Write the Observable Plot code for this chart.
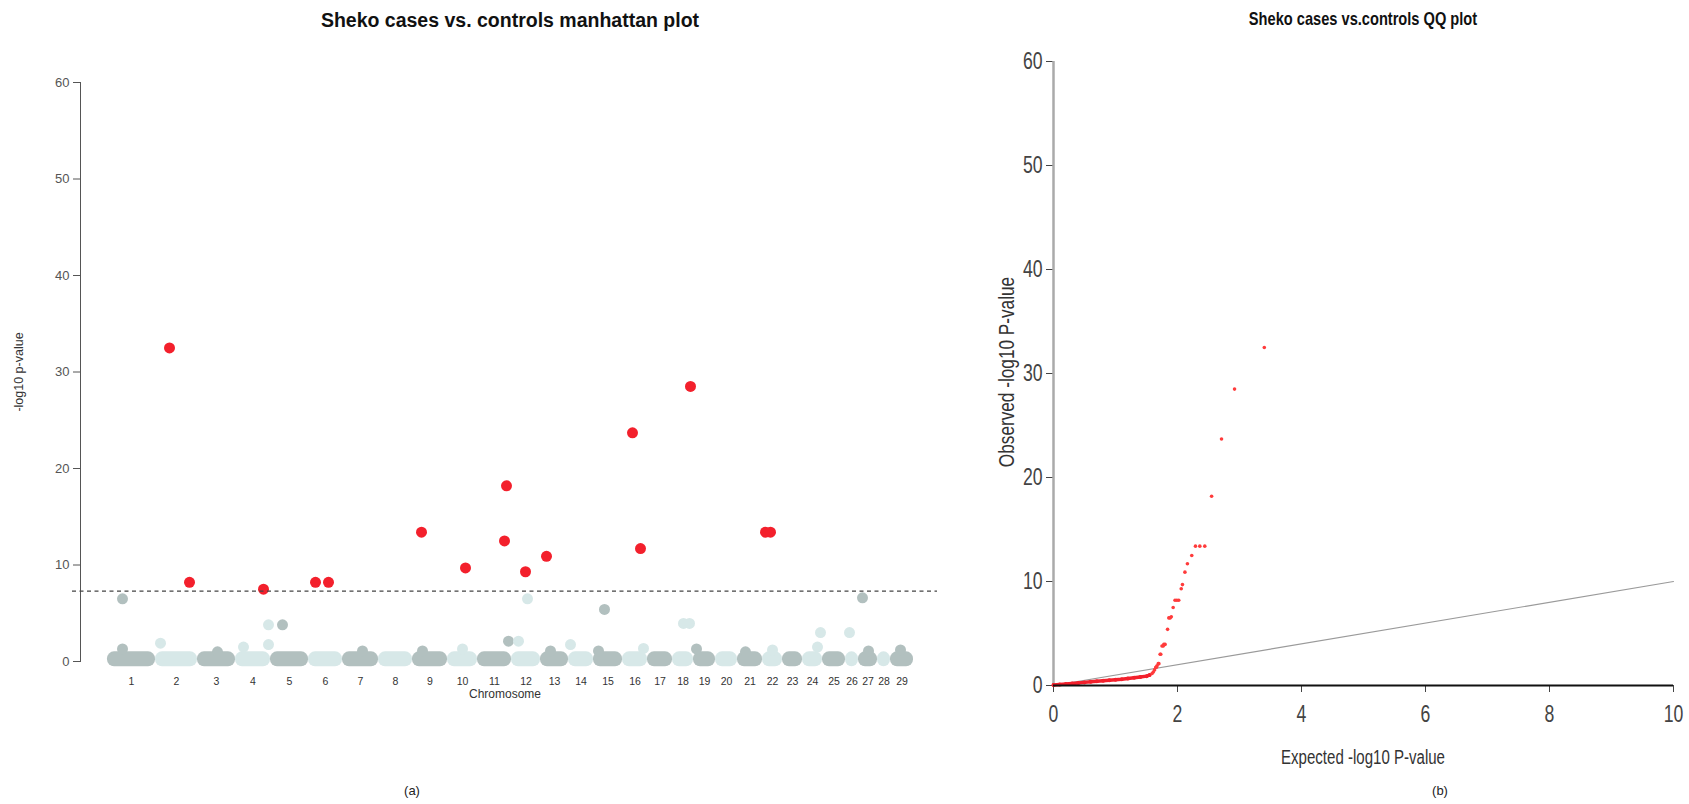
<!DOCTYPE html>
<html>
<head>
<meta charset="utf-8">
<script src="https://cdn.jsdelivr.net/npm/d3@7"></script>
<script src="https://cdn.jsdelivr.net/npm/@observablehq/plot@0.6"></script>
<style>
  body { margin: 0; background: #fff; }
  #page { position: relative; width: 1689px; height: 804px; overflow: hidden; background: #fff;
          font-family: "Liberation Sans", Arial, sans-serif; color: #222; }
  .abs { position: absolute; white-space: nowrap; }
  .ctr { transform: translate(-50%, -50%); }
  .rot { transform: translate(-50%, -50%) rotate(-90deg); }
  .ctrN { transform: translate(-50%, -50%) scale(0.86, 1.12); }
  .rotN { transform: translate(-50%, -50%) rotate(-90deg) scale(0.86, 1.12); }
  #left, #right { position: absolute; top: 0; }
  #left { left: 0; }
  #right { left: 980px; }
</style>
</head>
<body>
<div id="page">
  <div id="left"></div>
  <div id="right"></div>
  <div class="abs ctr" style="left:510px; top:20px; font-size:19.5px; font-weight:bold; color:#111;">Sheko cases vs. controls manhattan plot</div>
  <div class="abs ctrN" style="left:1363px; top:19px; font-size:17px; font-weight:bold; color:#111;">Sheko cases vs.controls QQ plot</div>
  <div class="abs rot" style="left:19px; top:372px; font-size:12.5px; color:#333;">-log10 p-value</div>
  <div class="abs ctr" style="left:505px; top:694px; font-size:12px; color:#333;">Chromosome</div>
  <div class="abs rotN" style="left:1007px; top:372px; font-size:20px; color:#333;">Observed -log10 P-value</div>
  <div class="abs ctrN" style="left:1363px; top:758px; font-size:17.5px; color:#333;">Expected -log10 P-value</div>
  <div class="abs ctr" style="left:412px; top:790px; font-size:13px; color:#222;">(a)</div>
  <div class="abs ctr" style="left:1440px; top:790px; font-size:13px; color:#222;">(b)</div>
</div>
<script>
// ---------------- Manhattan plot data ----------------
const chromosomes = [1,2,3,4,5,6,7,8,9,10,11,12,13,14,15,16,17,18,19,20,21,22,23,24,25,26,27,28,29];
// chromosome extents along the genome axis (relative units)
const chrLength = [48,42,38,35,38,34,36,34,35,30,34,29,28,25,29,25,25,21,22,22,25,20,20,20,23,13,19,13,23];
const yTicks = [0,10,20,30,40,50,60];
const threshold = 7.3;

// significant SNPs (red)
const hitChr    = [2,2,4,6,6,9,10,11,11,12,13,16,16,18,22,22];
const hitOffset = [14,34,28,7,20,9,18,29,27,14,6,10,18,18,3,8];
const hitP      = [32.5,8.2,7.5,8.2,8.2,13.4,9.7,18.2,12.5,9.3,10.9,23.7,11.7,28.5,13.4,13.4];

// sub-threshold SNPs standing out from the background band
const lowChr    = [1,2,4,4,5,11,12,12,14,15,18,18,24,26,27];
const lowOffset = [15,5,33,33,12,31,7,16,2,11,11,17,18,4,4];
const lowP      = [6.5,1.9,3.8,1.75,3.8,2.1,2.1,6.5,1.75,5.4,3.95,3.95,3.0,3.0,6.6];

// small bumps on top of the dense band of non-significant SNPs
const bumpChr    = [1,3,4,7,9,10,13,15,16,19,21,22,24,27,29];
const bumpOffset = [15,20,8,20,10,15,10,5,21,3,8,10,15,10,10];
const bumpP      = [1.3,1.0,1.5,1.1,1.1,1.3,1.1,1.1,1.35,1.3,1.0,1.2,1.5,1.1,1.2];
const bandLow = -0.55, bandHigh = 1.0;

// ---------------- QQ plot data ----------------
// dense part of the QQ curve (expected, observed)
const qqDenseExp = [0,0.1,0.2,0.3,0.4,0.5,0.6,0.7,0.8,0.9,1.0,1.1,1.2,1.3,1.4,1.5,1.55];
const qqDenseObs = [0.05,0.1,0.15,0.2,0.25,0.3,0.35,0.4,0.45,0.5,0.55,0.6,0.67,0.74,0.82,0.9,1.0];
// sparse tail of the QQ curve
const qqTailExp = [3.40,2.92,2.71,2.55,2.44,2.36,2.29,2.23,2.16,2.12,2.08,2.06,2.02,1.99,1.96,1.93,1.90,1.88,1.86,1.84,1.80,1.78,1.77,1.75,1.73,1.72,1.70,1.69,1.67,1.66,1.65,1.63,1.61,1.59];
const qqTailObs = [32.5,28.5,23.7,18.2,13.4,13.4,13.4,12.5,11.7,10.9,9.7,9.3,8.2,8.2,8.2,7.5,6.6,6.5,6.5,5.4,3.95,3.95,3.8,3.8,3.0,3.0,2.1,2.1,1.9,1.75,1.75,1.5,1.3,1.15];
const diagExp = [0,10];
const diagObs = [0,10];
const qqXTicks = [0,2,4,6,8,10];
const qqYTicks = [0,10,20,30,40,50,60];

// ---------------- build tables ----------------
const DARK = "#b2c0bf", LIGHT = "#d7e8e8", RED = "#f3202c";
let acc = 0;
const chrTable = chromosomes.map((c, i) => {
  const start = acc; acc += chrLength[i];
  return {chr: c, start, end: acc, mid: start + chrLength[i] / 2, fill: i % 2 === 0 ? DARK : LIGHT};
});
const posOf = (c, off) => chrTable[c - 1].start + off;
const colorOf = c => chrTable[c - 1].fill;
const hits = hitChr.map((c, i) => ({x: posOf(c, hitOffset[i]), p: hitP[i]}));
const lows = lowChr.map((c, i) => ({x: posOf(c, lowOffset[i]), p: lowP[i], fill: colorOf(c)}));
const bumps = bumpChr.map((c, i) => ({x: posOf(c, bumpOffset[i]), p: bumpP[i], fill: colorOf(c)}));

const left = Plot.plot({
  width: 960,
  height: 804,
  marginLeft: 80,
  marginRight: 23,
  marginTop: 82,
  marginBottom: 143,
  style: {background: "transparent", fontFamily: "'Liberation Sans', Arial, sans-serif", fontSize: "13px", color: "#555", overflow: "visible"},
  x: {domain: [-27, 830], axis: null},
  y: {domain: [0, 60], ticks: yTicks, tickSize: 7, tickPadding: 4, line: true, label: null},
  marks: [
    Plot.rect(chrTable, {x1: "start", x2: "end", y1: () => bandLow, y2: () => bandHigh, fill: "fill", rx: 7}),
    Plot.dot(bumps, {x: "x", y: "p", r: 5.5, fill: "fill"}),
    Plot.dot(lows, {x: "x", y: "p", r: 5.5, fill: "fill"}),
    Plot.text(chrTable, {x: "mid", y: () => 0, dy: 20, text: d => String(d.chr), fontSize: 10.5, fill: "#333"}),
    Plot.dot(hits, {x: "x", y: "p", r: 5.5, fill: RED}),
    Plot.ruleY([threshold], {x1: -35, x2: 830, stroke: "#444", strokeWidth: 1.3, strokeDasharray: "4,3.5"})
  ]
});
document.getElementById("left").appendChild(left);

const qqDense = qqDenseExp.map((e, i) => ({e, o: qqDenseObs[i]}));
const qqTail = qqTailExp.map((e, i) => ({e, o: qqTailObs[i]}));
const diag = diagExp.map((e, i) => ({e, o: diagObs[i]}));

const right = Plot.plot({
  width: 709,
  height: 804,
  marginLeft: 73,
  marginRight: 16,
  marginTop: 61,
  marginBottom: 119,
  style: {background: "transparent", fontFamily: "'Liberation Sans', Arial, sans-serif", fontSize: "21px", color: "#444", overflow: "visible"},
  x: {domain: [0, 10], ticks: qqXTicks, tickSize: 7, tickPadding: 13, label: null},
  y: {domain: [0, 60], ticks: qqYTicks, tickSize: 7, tickPadding: 4, label: null},
  marks: [
    Plot.ruleX([0], {y1: 0, y2: 60, stroke: "#aaa", strokeWidth: 2.5}),
    Plot.line(diag, {x: "e", y: "o", stroke: "#9a9a9a", strokeWidth: 1.2}),
    Plot.line(qqDense, {x: "e", y: "o", stroke: RED, strokeWidth: 3.5}),
    Plot.dot(qqDense, {x: "e", y: "o", r: 2, fill: RED}),
    Plot.dot(qqTail, {x: "e", y: "o", r: 1.8, fill: "#ff3b3b"}),
    Plot.ruleY([0], {x1: 0, x2: 10, stroke: "#111", strokeWidth: 2})
  ]
});
// condensed look of the tick labels in the QQ panel
right.querySelectorAll('g[aria-label$="tick label"] text').forEach(t => {
  const tr = t.getAttribute("transform");
  if (tr) t.setAttribute("transform", tr + " scale(0.84,1.12)");
});
document.getElementById("right").appendChild(right);
</script>
</body>
</html>
